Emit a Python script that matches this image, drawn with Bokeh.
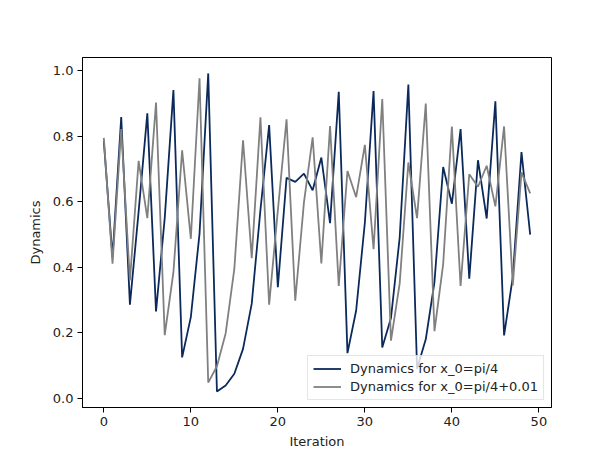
from bokeh.plotting import figure
from bokeh.models import Range1d, Legend, LegendItem, FixedTicker, CustomJSTickFormatter
from bokeh.embed import file_html
from bokeh.resources import INLINE

iterations = list(range(50))

dyn_a = [0.785, 0.43, 0.859, 0.286, 0.57, 0.870, 0.265, 0.55, 0.941, 0.125,
         0.248, 0.503, 0.992, 0.0205, 0.039, 0.075, 0.151, 0.289, 0.575, 0.834,
         0.339, 0.673, 0.661, 0.686, 0.635, 0.735, 0.535, 0.936, 0.138, 0.268,
         0.536, 0.938, 0.155, 0.245, 0.49, 0.958, 0.09, 0.18, 0.355, 0.706,
         0.594, 0.822, 0.365, 0.727, 0.549, 0.907, 0.192, 0.37, 0.752, 0.50]

dyn_b = [0.795, 0.411, 0.822, 0.36, 0.725, 0.55, 0.903, 0.193, 0.385, 0.757,
         0.487, 0.977, 0.048, 0.098, 0.198, 0.395, 0.788, 0.428, 0.858, 0.286,
         0.574, 0.852, 0.298, 0.598, 0.797, 0.412, 0.831, 0.343, 0.694, 0.614,
         0.774, 0.455, 0.914, 0.176, 0.35, 0.72, 0.55, 0.900, 0.205, 0.41,
         0.83, 0.343, 0.684, 0.646, 0.71, 0.586, 0.83, 0.345, 0.69, 0.626]

label_a = "Dynamics for x_0=pi/4"
label_b = "Dynamics for x_0=pi/4+0.01"
x_ticks = [0, 10, 20, 30, 40, 50]
y_ticks = [0.0, 0.2, 0.4, 0.6, 0.8, 1.0]

FONT = "DejaVu Sans"

xmin, xmax = min(iterations), max(iterations)
ymin = min(min(dyn_a), min(dyn_b))
ymax = max(max(dyn_a), max(dyn_b))
xpad = 0.05 * (xmax - xmin)
ypad = 0.05 * (ymax - ymin)

p = figure(output_backend="svg", toolbar_location=None,
           frame_width=469, frame_height=350,
           x_range=Range1d(xmin - xpad, xmax + xpad),
           y_range=Range1d(ymin - ypad, ymax + ypad))
p.min_border_left = 82
p.min_border_top = 57
p.min_border_right = 38
p.min_border_bottom = 40
p.background_fill_color = "white"
p.border_fill_color = "white"
p.outline_line_color = "black"
p.outline_line_width = 1
p.xgrid.visible = False
p.ygrid.visible = False

r_a = p.line(iterations, dyn_a, line_color="#0b2a5b", line_width=1.8)
r_b = p.line(iterations, dyn_b, line_color="#808080", line_width=1.8)

for ax in (p.xaxis[0], p.yaxis[0]):
    ax.axis_line_color = "black"
    ax.major_tick_line_color = "black"
    ax.major_tick_out = 5
    ax.major_tick_in = 0
    ax.minor_tick_line_color = None
    ax.major_label_text_font = FONT
    ax.major_label_text_font_size = "13px"
    ax.major_label_text_color = "#222222"
    ax.axis_label_text_font = FONT
    ax.axis_label_text_font_size = "13px"
    ax.axis_label_text_font_style = "normal"
    ax.axis_label_text_color = "#222222"
    ax.major_label_standoff = 4

p.xaxis[0].ticker = FixedTicker(ticks=x_ticks)
p.yaxis[0].ticker = FixedTicker(ticks=y_ticks)
p.yaxis[0].formatter = CustomJSTickFormatter(code="return tick.toFixed(1);")
p.xaxis[0].axis_label = "Iteration"
p.yaxis[0].axis_label = "Dynamics"
p.xaxis[0].axis_label_standoff = 5
p.yaxis[0].axis_label_standoff = 7

legend = Legend(items=[LegendItem(label=label_a, renderers=[r_a]),
                       LegendItem(label=label_b, renderers=[r_b])],
                location="bottom_right")
legend.margin = 7
legend.padding = 5
legend.spacing = 3
legend.glyph_width = 28
legend.glyph_height = 15
legend.label_height = 15
legend.label_standoff = 9
legend.label_text_font = FONT
legend.label_text_font_size = "13px"
legend.label_text_color = "#222222"
legend.border_line_color = "#cccccc"
legend.border_line_width = 1
legend.background_fill_alpha = 0.8
p.add_layout(legend)

open("out.html", "w").write(file_html(p, INLINE))
